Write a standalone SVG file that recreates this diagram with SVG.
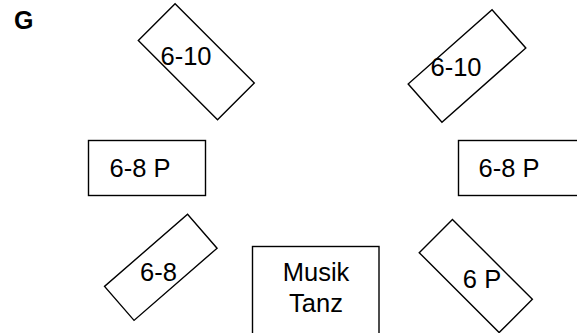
<svg xmlns="http://www.w3.org/2000/svg" width="577" height="333" viewBox="0 0 577 333">
<style>
.box{fill:none;stroke:#000;stroke-width:1.4}
.t{font-family:"Liberation Sans",Arial,sans-serif;font-size:25.5px;fill:#000;text-anchor:middle}
</style>
<rect width="577" height="333" fill="#fff"/>
<text x="14" y="29" style="font-family:'Liberation Sans',Arial,sans-serif;font-size:25px;font-weight:bold">G</text>
<g id="tl">
<rect class="box" x="-56" y="-26" width="112" height="52" transform="translate(196.3,61.7) rotate(45)"/>
<text class="t" x="186" y="65">6-10</text>
</g>
<g id="tr">
<rect class="box" x="-56" y="-25.5" width="112" height="51" transform="translate(467,66) rotate(-41.5)"/>
<text class="t" x="456" y="76">6-10</text>
</g>
<g id="ml">
<rect class="box" x="88.5" y="140.5" width="117" height="55"/>
<text class="t" x="140" y="177">6-8 P</text>
</g>
<g id="mr">
<rect class="box" x="458.5" y="140.5" width="130" height="55"/>
<text class="t" x="509" y="177">6-8 P</text>
</g>
<g id="bl">
<rect class="box" x="-55" y="-22.5" width="110" height="45" transform="translate(160.8,267.3) rotate(-41)"/>
<text class="t" x="158.5" y="281">6-8</text>
</g>
<g id="mt">
<rect class="box" x="252.5" y="246.5" width="126.5" height="100"/>
<text class="t" x="316" y="281">Musik</text>
<text class="t" x="316" y="312">Tanz</text>
</g>
<g id="br">
<rect class="box" x="-56.5" y="-23.5" width="113" height="47" transform="translate(475.8,276) rotate(45)"/>
<text class="t" x="482" y="288">6 P</text>
</g>
<g id="connectors"/>
</svg>
